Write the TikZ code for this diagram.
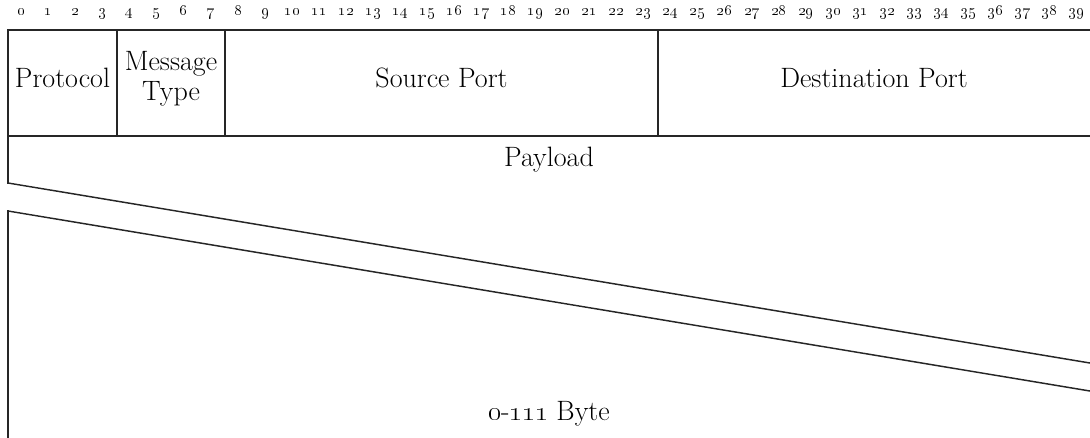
\documentclass[tikz,border=0pt]{standalone}
\begin{document}
\begin{tikzpicture}[x=0.75pt,y=-0.75pt,
  rule/.style={line width=1.1pt,draw=black!85,line cap=rect},
  fieldtext/.style={font=\fontsize{21}{25}\selectfont,inner sep=0pt,anchor=base},
  bitnum/.style={font=\fontsize{12.5}{14}\selectfont,inner sep=0pt,anchor=base}]
\useasboundingbox (0,0) rectangle (1090,437);

% bit numbers across the top
\foreach \i in {0,...,39}
  \node[bitnum] (bit\i) at ({8+(\i+0.5)*27.05},15) {\oldstylenums{\i}};

% header row
\coordinate (tl) at (8,30);
\coordinate (tr) at (1090,30);
\coordinate (ml) at (8,136);
\coordinate (mr) at (1090,136);
\draw[rule] (tl) -- (tr);
\draw[rule] (ml) -- (mr);
\draw[rule] (tl) -- (8,183) coordinate (cutA);
\draw[rule] (117,30) -- (117,136);
\draw[rule] (225,30) -- (225,136);
\draw[rule] (658,30) -- (658,136);

% skipped region of the payload
\coordinate (cutAr) at (1090,363);
\coordinate (cutB) at (8,211);
\coordinate (cutBr) at (1090,391);
\coordinate (bl) at (8,437);
\draw[rule] (cutA) -- (cutAr);
\draw[rule] (cutB) -- (cutBr);
\draw[rule] (cutB) -- (bl);

% field labels
\node[fieldtext] (proto) at (62.5,87) {Protocol};
\node[fieldtext] (msg1) at (171,70) {Message};
\node[fieldtext] (msg2) at (171,100) {Type};
\node[fieldtext] (src) at (441.5,87) {Source Port};
\node[fieldtext] (dst) at (874,87) {Destination Port};
\node[fieldtext] (pay) at (549,166) {Payload};
\node[fieldtext] (size) at (549,420) {\oldstylenums{0}-\oldstylenums{111} Byte};
\end{tikzpicture}
\end{document}
